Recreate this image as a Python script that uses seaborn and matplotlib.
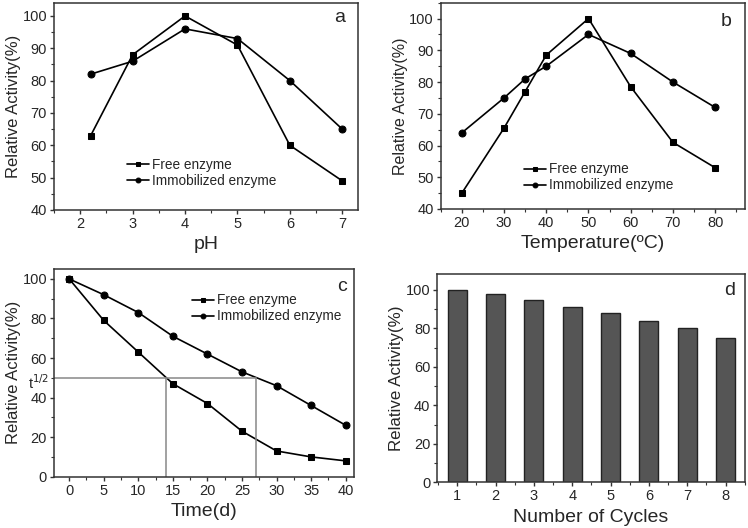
import seaborn as sns
import matplotlib.pyplot as plt
from matplotlib.ticker import AutoMinorLocator

# panel a - pH
ph = [2.2, 3, 4, 5, 6, 7]
ph_free = [63, 88, 100, 91, 60, 49]
ph_immob = [82, 86, 96, 93, 80, 65]

# panel b - temperature
temp = [20, 30, 35, 40, 50, 60, 70, 80]
temp_free = [45, 65.5, 77, 88.5, 100, 78.5, 61, 53]
temp_immob = [64, 75, 81, 85, 95, 89, 80, 72]

# panel c - storage time
days = [0, 5, 10, 15, 20, 25, 30, 35, 40]
time_free = [100, 79, 63, 47, 37, 23, 13, 10, 8]
time_immob = [100, 92, 83, 71, 62, 53, 46, 36, 26]
half_life = [14, 27]

# panel d - reuse
cycles = [1, 2, 3, 4, 5, 6, 7, 8]
cycle_act = [100, 98, 95, 91, 88, 84, 80, 75]

sns.set_style('ticks')
plt.rcParams['font.family'] = ['Liberation Sans', 'DejaVu Sans']

fig = plt.figure(figsize=(7.48, 5.28), dpi=100)
ax_a = fig.add_axes([0.0722, 0.6023, 0.4064, 0.392])
ax_b = fig.add_axes([0.5892, 0.6042, 0.4064, 0.3907])
ax_c = fig.add_axes([0.0722, 0.0972, 0.401, 0.394])
ax_d = fig.add_axes([0.5846, 0.0866, 0.411, 0.3945])


def two_lines(ax, x, free, immob):
    sns.lineplot(x=x, y=free, ax=ax, color='black', marker='s', markersize=5,
                 markeredgecolor='black', lw=1.2, label='Free enzyme')
    sns.lineplot(x=x, y=immob, ax=ax, color='black', marker='o', markersize=5,
                 markeredgecolor='black', lw=1.2, label='Immobilized enzyme')


def add_legend(ax, anchor):
    leg = ax.legend(loc='upper left', bbox_to_anchor=anchor, frameon=False,
                    fontsize=9.8, handlelength=1.6, handletextpad=0.2,
                    labelspacing=0.15, markerscale=0.7)
    return leg


def style(ax, letter, lx, ly, ylsize=12):
    for s in ax.spines.values():
        s.set_visible(True)
        s.set_color('#333333')
        s.set_linewidth(1.1)
    ax.xaxis.set_minor_locator(AutoMinorLocator(2))
    ax.yaxis.set_minor_locator(AutoMinorLocator(2))
    ax.tick_params(which='major', length=3, width=1, pad=2, labelsize=10.5,
                   color='#333333')
    ax.tick_params(which='minor', length=2, width=0.8, color='#333333')
    ax.set_ylabel('Relative Activity(%)', fontsize=ylsize, labelpad=1)
    ax.text(lx, ly, letter, transform=ax.transAxes, fontsize=14,
            ha='center', va='center')


two_lines(ax_a, ph, ph_free, ph_immob)
ax_a.set_xlim(1.5, 7.3)
ax_a.set_ylim(40, 104)
ax_a.set_xticks([2, 3, 4, 5, 6, 7])
ax_a.set_yticks(range(40, 101, 10))
ax_a.set_xlabel('pH', fontsize=14)
add_legend(ax_a, (0.2, 0.31))
style(ax_a, 'a', 0.94, 0.93, 12)

two_lines(ax_b, temp, temp_free, temp_immob)
ax_b.set_xlim(15, 87)
ax_b.set_ylim(40, 105)
ax_b.set_xticks(range(20, 81, 10))
ax_b.set_yticks(range(40, 101, 10))
ax_b.set_xlabel('Temperature(\u00baC)', fontsize=14)
add_legend(ax_b, (0.235, 0.285))
style(ax_b, 'b', 0.94, 0.91, 11.5)

two_lines(ax_c, days, time_free, time_immob)
ax_c.set_xlim(-2.2, 41.2)
ax_c.set_ylim(0, 105.2)
ax_c.set_xticks(range(0, 41, 5))
ax_c.set_yticks(range(0, 101, 20))
ax_c.set_xlabel('Time(d)', fontsize=14)
ax_c.axhline(50, xmax=(half_life[1] + 2.2) / 43.4, color='#888888', lw=1.1)
for t in half_life:
    ax_c.plot([t, t], [0, 50], color='#888888', lw=1.1)
ax_c.text(-0.015, 44.2, 't$^{1/2}$', transform=ax_c.get_yaxis_transform(),
          ha='right', va='baseline', fontsize=10.5)
add_legend(ax_c, (0.42, 0.94))
style(ax_c, 'c', 0.96, 0.913, 12)

sns.barplot(x=cycles, y=cycle_act, ax=ax_d, native_scale=True, width=0.5,
            color='#555555', edgecolor='#222222', linewidth=1, saturation=1)
ax_d.set_xlim(0.48, 8.5)
ax_d.set_ylim(0, 108.3)
ax_d.set_xticks(cycles)
ax_d.set_yticks(range(0, 101, 20))
ax_d.set_xlabel('Number of Cycles', fontsize=14)
style(ax_d, 'd', 0.95, 0.92, 12.2)

fig.savefig('out.png', dpi=100)
